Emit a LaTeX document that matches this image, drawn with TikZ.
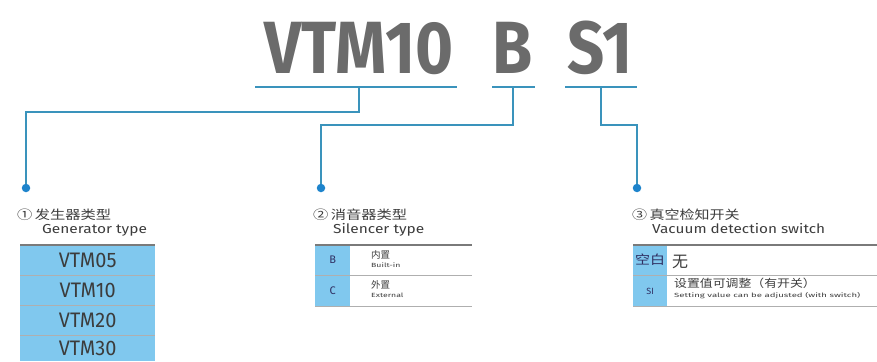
\documentclass[tikz,border=0pt]{standalone}
\usepackage{fontspec}
\usepackage{xcolor}
\setmainfont{Fira Sans}
\newfontfamily\cjk{Noto Sans CJK SC}
\usetikzlibrary{positioning,calc}

\definecolor{leadblue}{HTML}{3A93BC}
\definecolor{dotblue}{HTML}{1E84CC}
\definecolor{cellblue}{HTML}{80C8EE}
\definecolor{codegrey}{HTML}{6B6B6B}
\definecolor{txtgrey}{HTML}{3C3C3C}
\definecolor{rulegrey}{HTML}{7A7A7A}
\newcommand{\squeeze}[2][0.82]{\scalebox{#1}[1]{#2}}

\begin{document}
\begin{tikzpicture}[
    x=1pt, y=-1pt,
    code/.style     = {font=\fontsize{74}{74}\selectfont\bfseries, text=codegrey,
                       inner sep=0pt, anchor=base},
    uline/.style    = {draw=leadblue, line width=1.1pt},
    lead/.style     = {draw=leadblue, line width=1.1pt},
    dot/.style      = {circle, fill=dotblue, inner sep=0pt, minimum size=8.5pt},
    headcn/.style   = {font=\cjk\fontsize{12.5}{13}\selectfont, text=txtgrey,
                       anchor=base west, inner sep=0pt},
    headen/.style   = {font=\fontsize{13}{13}\selectfont, text=txtgrey,
                       anchor=base west, inner sep=0pt},
    gencell/.style  = {rectangle, fill=cellblue, anchor=north west, inner sep=0pt,
                       minimum width=135pt, minimum height=30pt, text=txtgrey,
                       font=\fontsize{21}{21}\selectfont},
    keycell/.style  = {rectangle, fill=cellblue, anchor=north west, inner sep=0pt,
                       minimum width=35pt, minimum height=30pt, text=txtgrey!80!blue,
                       font=\fontsize{11}{11}\selectfont},
    desccn/.style   = {font=\cjk\fontsize{9.5}{10}\selectfont, text=txtgrey,
                       anchor=base west, inner sep=0pt},
    descen/.style   = {font=\fontsize{6}{6}\selectfont, text=txtgrey,
                       anchor=base west, inner sep=0pt},
    toprule/.style  = {draw=rulegrey, line width=1.8pt},
    midrule/.style  = {draw=rulegrey!60, line width=0.8pt},
]
\useasboundingbox (0,0) rectangle (877,361);
\clip (0,0) rectangle (877,361);

% =============================== Model code ===================================
\node[code] (cgen) at (359, 73) {\squeeze[0.88]{VTM10}};
\node[code] (csil) at (513, 73) {\squeeze[0.88]{B}};
\node[code] (csw)  at (600, 73) {\squeeze[0.88]{S1}};

\coordinate (ugen) at (359, 87);
\coordinate (usil) at (513, 87);
\coordinate (usw)  at (601, 87);
\draw[uline] (255, 87) -- (ugen) -- (457, 87);
\draw[uline] (492, 87) -- (usil) -- (535, 87);
\draw[uline] (565, 87) -- (usw) -- (637, 87);

% leaders down to the three sections
\node[dot] (dgen) at (26, 188)  {};
\node[dot] (dsil) at (321, 188) {};
\node[dot] (dsw)  at (637, 188) {};
\draw[lead] (ugen) |- (dgen |- 0,112) -- (dgen);
\draw[lead] (usil) |- (dsil |- 0,125) -- (dsil);
\draw[lead] (usw)  |- (dsw |- 0,125)  -- (dsw);

% =============================== Section 1: GENERATOR =========================
\begin{scope}
  \node[headcn] (hgen) at (17, 219)  {\squeeze[1.22]{①\,发生器类型}};
  \node[headen] (egen) at (42, 233)  {\squeeze[1.19]{Generator type}};
  \foreach \name [count=\i] in {VTM05,VTM10,VTM20} {
      \node[gencell] (gen\i) at (20, {245+30*(\i-1)}) {\squeeze[0.95]{\name}};
  }
  % last row runs into the lower edge
  \node[gencell, minimum height=26pt] (gen4) at (20, 335) {\squeeze[0.95]{VTM30}};
  \draw[toprule] (gen1.north west) -- (gen1.north east);
  \foreach \i in {1,2,3} {
      \draw[midrule] (gen\i.south west) -- (gen\i.south east);
  }
\end{scope}

% =============================== Section 2: SILENCER ==========================
\begin{scope}
  \node[headcn] (hsil) at (313, 219) {\squeeze[1.22]{②\,消音器类型}};
  \node[headen] (esil) at (333, 233) {\squeeze[1.19]{Silencer type}};
  \node[keycell] (silB) at (315, 245) {B};
  \node[keycell] (silC) at (315, 276) {C};
  \node[desccn] (silBcn) at (371, 258) {内置};
  \node[desccn] (silCcn) at (371, 288) {外置};
  \node[descen] (silBen) at (371, 267) {\squeeze[1.45]{Built-in}};
  \node[descen] (silCen) at (371, 297) {\squeeze[1.45]{External}};
  \coordinate (silR) at (472, 245);
  \draw[toprule] (silB.north west) -- (silR);
  \draw[midrule] (silB.south west) -- (silR |- silB.south);
  \draw[midrule] (silC.south west) -- (silR |- silC.south);
\end{scope}

% =============================== Section 3: SWITCH ============================
\begin{scope}
  \node[headcn] (hsw) at (632, 219) {\squeeze[1.2]{③\,真空检知开关}};
  \node[headen] (esw) at (652, 233) {\squeeze[1.18]{Vacuum detection switch}};
  \node[keycell, minimum width=34pt, font=\cjk\fontsize{12.5}{12}\selectfont]
       (swN) at (633, 245) {\squeeze[1.2]{空白}};
  \node[keycell, minimum width=34pt, font=\fontsize{9}{9}\selectfont]
       (swS) at (633, 276) {SI};
  \node[desccn, font=\cjk\fontsize{16}{16}\selectfont] (swNcn) at (672, 267) {无};
  \node[desccn, font=\cjk\fontsize{11}{11}\selectfont] (swScn) at (674, 287)
       {\squeeze[1.17]{设置值可调整（有开关）}};
  \node[descen] (swSen) at (674, 297)
       {\squeeze[1.6]{Setting value can be adjusted (with switch)}};
  \coordinate (swR) at (877, 245);
  \draw[toprule] (swN.north west) -- (swR);
  \draw[midrule] (swN.south west) -- (swR |- swN.south);
  \draw[midrule] (swS.south west) -- (swR |- swS.south);
\end{scope}

\end{tikzpicture}
\end{document}
